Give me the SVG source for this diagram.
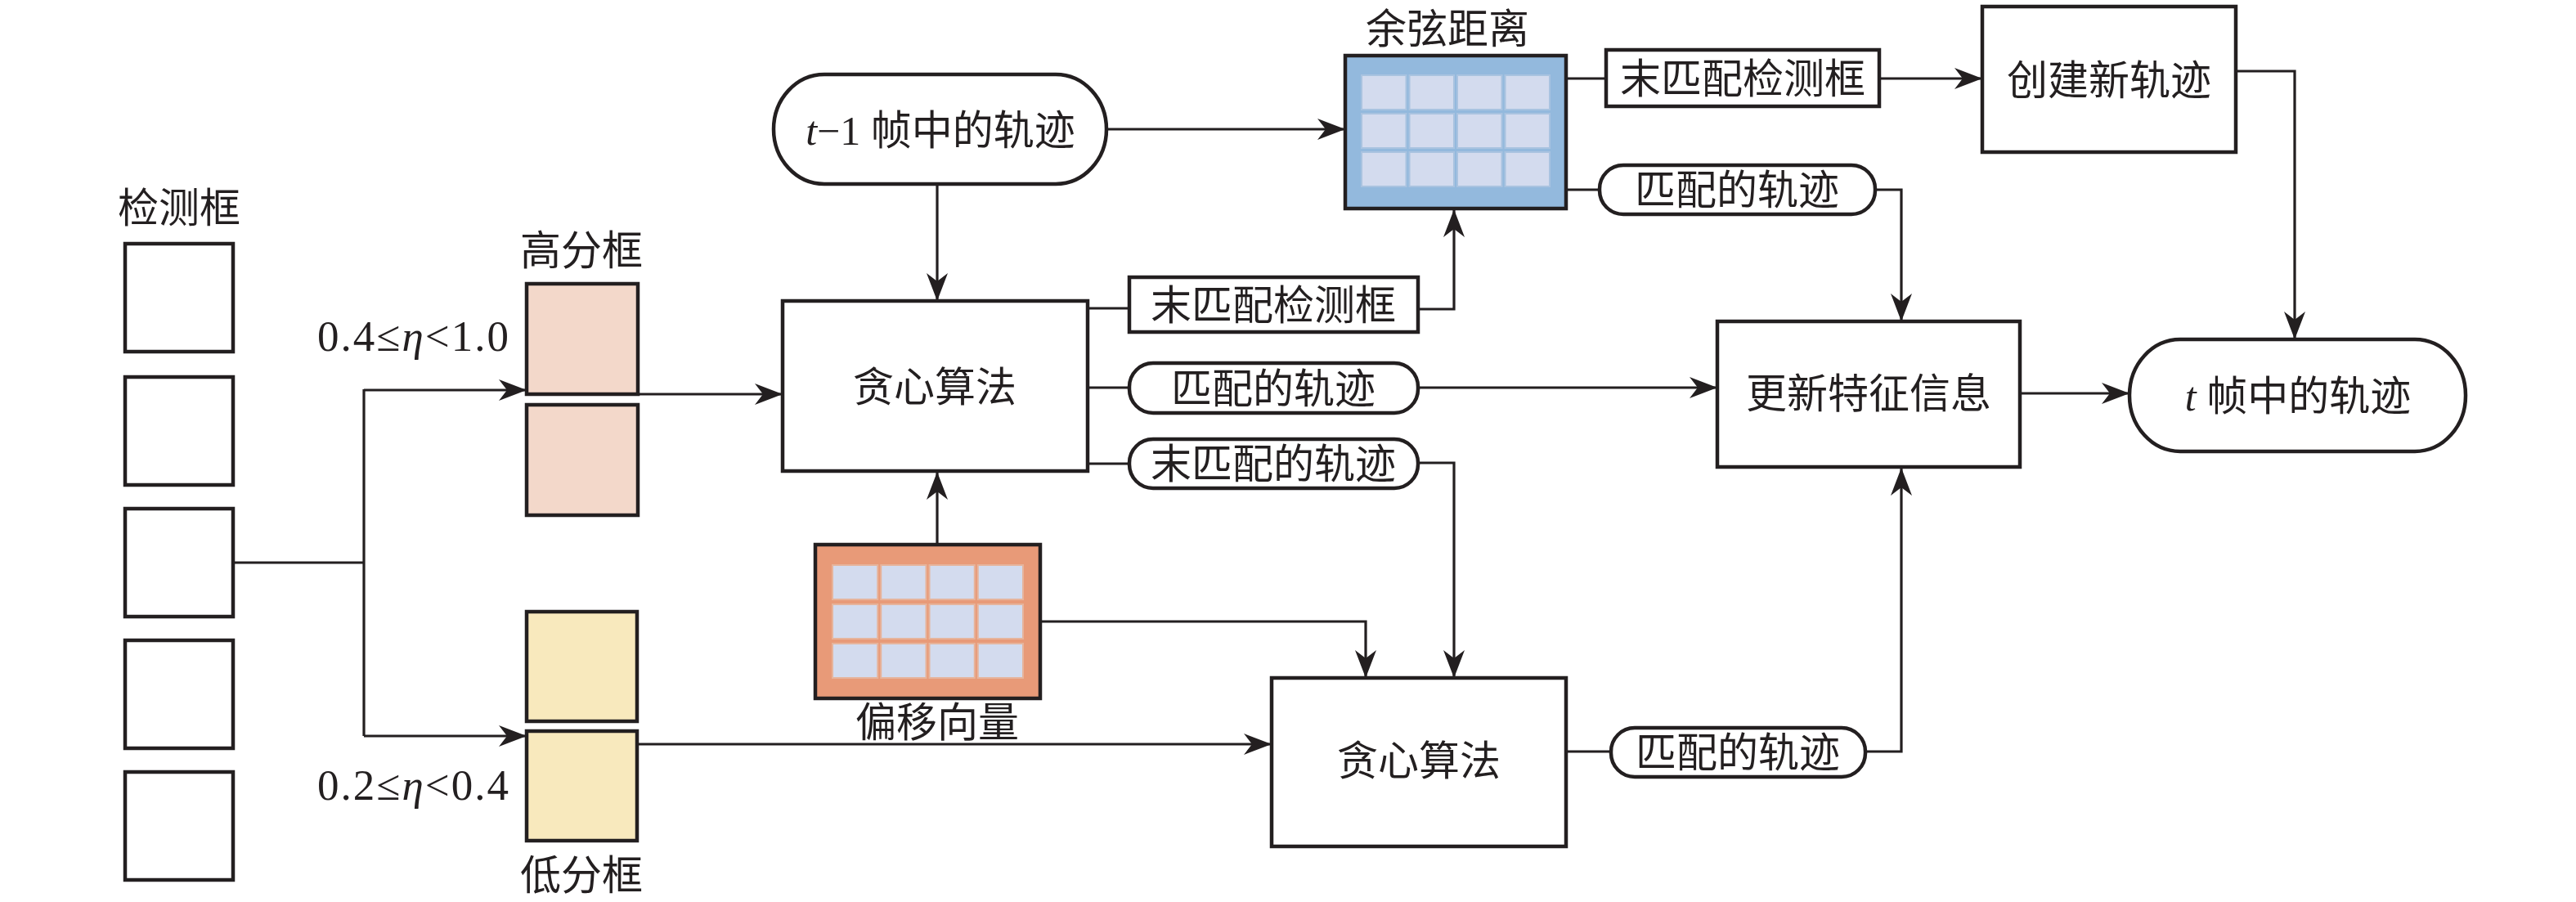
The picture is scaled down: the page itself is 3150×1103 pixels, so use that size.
<svg xmlns="http://www.w3.org/2000/svg" width="3150" height="1103" viewBox="0 0 3150 1103">
<style>
.box{fill:#fff;stroke:#231f20;stroke-width:4.5}
.pill{fill:#fff;stroke:#231f20;stroke-width:4.5}
.hi{fill:#f3d8ca;stroke:#231f20;stroke-width:4.5}
.lo{fill:#f8e9bd;stroke:#231f20;stroke-width:4.5}
.cos{fill:#93b9dd;stroke:#231f20;stroke-width:4.5}
.off{fill:#e89a78;stroke:#231f20;stroke-width:4.5}
.cellb{fill:#d3dbee;stroke:#a9c3e0;stroke-width:2}
.cello{fill:#d3dbee;stroke:#e6b49c;stroke-width:2}
.t{font-family:"Liberation Serif","Noto Sans CJK SC",serif;font-size:50px;fill:#231f20;text-anchor:middle}
.m{font-family:"Liberation Serif","DejaVu Serif",serif;font-size:53px;fill:#231f20}
.it{font-style:italic}
.c{fill:none;stroke:#231f20;stroke-width:3.2}
.a{fill:none;stroke:#231f20;stroke-width:3.2;marker-end:url(#arr)}
</style>
<defs>
<marker id="arr" viewBox="-36 -15 38 30" refX="0" refY="0" markerWidth="38" markerHeight="30" orient="auto" markerUnits="userSpaceOnUse">
<path d="M0,0 L-34,-13 L-24,0 L-34,13 Z" fill="#231f20"/>
</marker>
</defs>
<rect width="3150" height="1103" fill="#fff"/>

<g id="connectors">
<path class="c" d="M285,688 H445 M445,476 V900"/>
<path class="a" d="M445,477 H644"/>
<path class="a" d="M445,900 H644"/>
<path class="a" d="M780,482 H957"/>
<path class="a" d="M780,910 H1555"/>
<path class="a" d="M1353,158 H1645"/>
<path class="a" d="M1146,225 V368"/>
<path class="c" d="M1330,377 H1381"/>
<path class="a" d="M1734,378 H1778 V256"/>
<path class="c" d="M1330,474 H1381"/>
<path class="a" d="M1734,474 H2100"/>
<path class="c" d="M1330,567 H1381"/>
<path class="a" d="M1734,566 H1778 V829"/>
<path class="a" d="M1146,666 V577"/>
<path class="a" d="M1272,760 H1670 V829"/>
<path class="c" d="M1915,919 H1970"/>
<path class="a" d="M2281,919 H2325 V572"/>
<path class="c" d="M1915,96 H1964"/>
<path class="a" d="M2298,96 H2424"/>
<path class="c" d="M1915,232 H1956"/>
<path class="a" d="M2293,232 H2325 V393"/>
<path class="a" d="M2470,481 H2604"/>
<path class="a" d="M2734,87 H2806 V415"/>
</g>

<g id="detections">
<text class="t" x="219" y="272">检测框</text>
<rect class="box" x="153" y="298" width="132" height="132"/>
<rect class="box" x="153" y="461" width="132" height="132"/>
<rect class="box" x="153" y="622" width="132" height="132"/>
<rect class="box" x="153" y="783" width="132" height="132"/>
<rect class="box" x="153" y="944" width="132" height="132"/>
</g>

<g id="label-high">
<text class="m" x="388" y="429" textLength="234" lengthAdjust="spacing">0.4≤<tspan class="it">η</tspan>&lt;1.0</text>
</g>
<g id="label-low">
<text class="m" x="388" y="978" textLength="234" lengthAdjust="spacing">0.2≤<tspan class="it">η</tspan>&lt;0.4</text>
</g>

<g id="high-boxes">
<text class="t" x="711" y="324">高分框</text>
<rect class="hi" x="644" y="347" width="136" height="135"/>
<rect class="hi" x="644" y="495" width="136" height="135"/>
</g>

<g id="low-boxes">
<rect class="lo" x="644" y="748" width="135" height="134"/>
<rect class="lo" x="644" y="894" width="135" height="134"/>
<text class="t" x="711" y="1088">低分框</text>
</g>

<g id="tracks-prev">
<rect class="pill" x="946" y="91" width="407" height="134" rx="62" ry="67"/>
<text class="t" x="1150" y="177"><tspan class="it">t</tspan>−1 帧中的轨迹</text>
</g>

<g id="greedy1">
<rect class="box" x="957" y="368" width="373" height="208"/>
<text class="t" x="1143" y="491">贪心算法</text>
</g>

<g id="cosine">
<text class="t" x="1770" y="53">余弦距离</text>
<rect class="cos" x="1645" y="68" width="270" height="187"/>
<rect class="cellb" x="1665" y="92" width="54.5" height="42"/>
<rect class="cellb" x="1723.5" y="92" width="54.5" height="42"/>
<rect class="cellb" x="1782" y="92" width="54.5" height="42"/>
<rect class="cellb" x="1840.5" y="92" width="54.5" height="42"/>
<rect class="cellb" x="1665" y="139" width="54.5" height="42"/>
<rect class="cellb" x="1723.5" y="139" width="54.5" height="42"/>
<rect class="cellb" x="1782" y="139" width="54.5" height="42"/>
<rect class="cellb" x="1840.5" y="139" width="54.5" height="42"/>
<rect class="cellb" x="1665" y="186" width="54.5" height="42"/>
<rect class="cellb" x="1723.5" y="186" width="54.5" height="42"/>
<rect class="cellb" x="1782" y="186" width="54.5" height="42"/>
<rect class="cellb" x="1840.5" y="186" width="54.5" height="42"/>
</g>

<g id="unmatched-det-1">
<rect class="box" x="1381" y="339" width="353" height="67"/>
<text class="t" x="1557" y="391">末匹配检测框</text>
</g>

<g id="matched-1">
<rect class="pill" x="1381" y="444" width="353" height="61" rx="29" ry="29"/>
<text class="t" x="1557" y="493">匹配的轨迹</text>
</g>

<g id="unmatched-tracks">
<rect class="pill" x="1381" y="537" width="353" height="60" rx="29" ry="29"/>
<text class="t" x="1557" y="585">末匹配的轨迹</text>
</g>

<g id="offset">
<rect class="off" x="997" y="666" width="275" height="188"/>
<rect class="cello" x="1018" y="691" width="55.25" height="42"/>
<rect class="cello" x="1077.25" y="691" width="55.25" height="42"/>
<rect class="cello" x="1136.5" y="691" width="55.25" height="42"/>
<rect class="cello" x="1195.75" y="691" width="55.25" height="42"/>
<rect class="cello" x="1018" y="739" width="55.25" height="42"/>
<rect class="cello" x="1077.25" y="739" width="55.25" height="42"/>
<rect class="cello" x="1136.5" y="739" width="55.25" height="42"/>
<rect class="cello" x="1195.75" y="739" width="55.25" height="42"/>
<rect class="cello" x="1018" y="787" width="55.25" height="42"/>
<rect class="cello" x="1077.25" y="787" width="55.25" height="42"/>
<rect class="cello" x="1136.5" y="787" width="55.25" height="42"/>
<rect class="cello" x="1195.75" y="787" width="55.25" height="42"/>
<text class="t" x="1146" y="901">偏移向量</text>
</g>

<g id="greedy2">
<rect class="box" x="1555" y="829" width="360" height="206"/>
<text class="t" x="1735" y="948">贪心算法</text>
</g>

<g id="matched-2">
<rect class="pill" x="1970" y="890" width="311" height="60" rx="29" ry="29"/>
<text class="t" x="2125" y="938">匹配的轨迹</text>
</g>

<g id="unmatched-det-2">
<rect class="box" x="1964" y="61" width="334" height="69"/>
<text class="t" x="2131" y="114">末匹配检测框</text>
</g>

<g id="matched-top">
<rect class="pill" x="1956" y="202" width="337" height="60" rx="29" ry="29"/>
<text class="t" x="2124" y="250">匹配的轨迹</text>
</g>

<g id="create">
<rect class="box" x="2424" y="8" width="310" height="178"/>
<text class="t" x="2579" y="116">创建新轨迹</text>
</g>

<g id="update">
<rect class="box" x="2100" y="393" width="370" height="178"/>
<text class="t" x="2285" y="499">更新特征信息</text>
</g>

<g id="tracks-t">
<rect class="pill" x="2604" y="415" width="411" height="137" rx="62" ry="68"/>
<text class="t" x="2810" y="502"><tspan class="it">t</tspan> 帧中的轨迹</text>
</g>
</svg>
